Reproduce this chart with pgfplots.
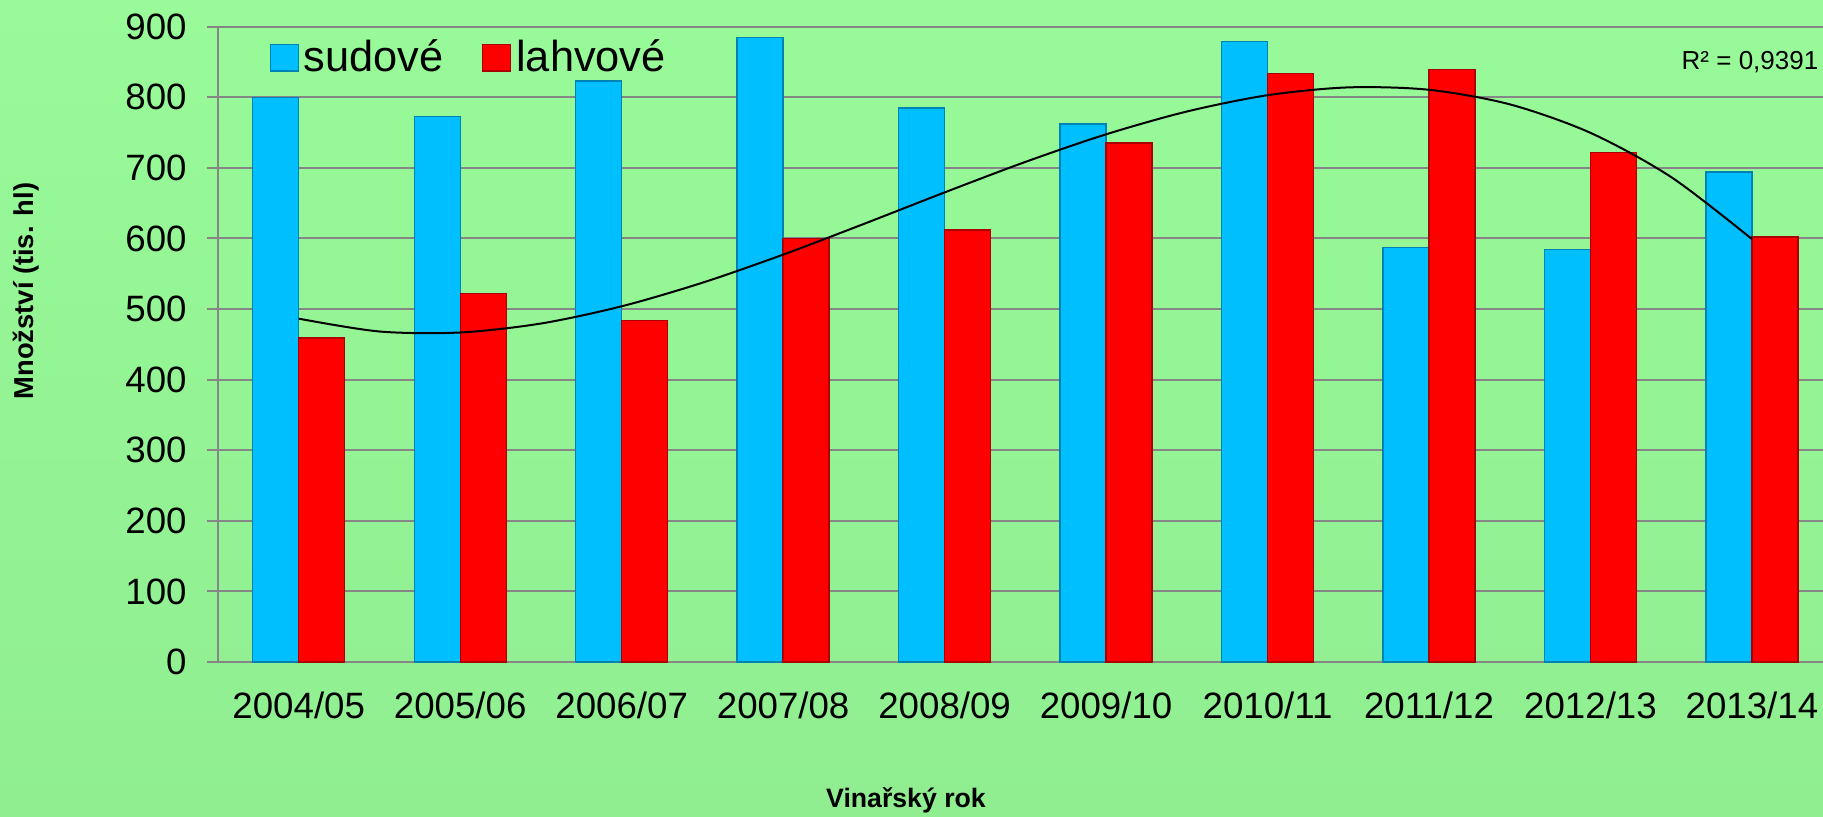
\documentclass[border=0pt]{standalone}
\usepackage{pgfplots}
\pgfplotsset{compat=1.18}
\usepackage{pgfplotstable}
\usepackage{fontspec}
\setmainfont{Liberation Sans}
\definecolor{bgtop}{RGB}{152,250,152}
\definecolor{bgbot}{RGB}{144,238,144}
\definecolor{sud}{RGB}{0,191,255}
\definecolor{sudd}{RGB}{0,130,180}
\definecolor{lah}{RGB}{255,0,0}
\definecolor{lahd}{RGB}{170,0,0}
\definecolor{gridc}{RGB}{134,134,134}
\pgfplotstableread{
x sud lah
0 800 459
1 773 522
2 823 484
3 885 600
4 785 612
5 762 735
6 879 834
7 587 839
8 584 722
9 694 602
}\data
\pgfplotstableread{
x y
0 486.4
0.5 468.2
1 466.8
1.5 479.5
2 503.9
2.5 537.3
3 577.1
3.5 620.6
4 665.2
4.5 708.4
5 747.5
5.5 779.8
6 802.9
6.5 814.0
7 810.6
7.5 790.0
8 749.6
8.5 686.9
9 599.1
}\trend
\begin{document}
\begin{tikzpicture}
\useasboundingbox (0,0) rectangle (546.9pt,244.8pt);
\shade[top color=bgtop,bottom color=bgbot] (0,0) rectangle (546.9pt,244.8pt);
\begin{axis}[
  at={(65.4pt,46.2pt)}, anchor=south west,
  width=481.5pt, height=190.6pt, scale only axis,
  xmin=-0.5, xmax=9.44, ymin=0, ymax=900,
  xtick={0,...,9},
  xticklabels={2004/05,2005/06,2006/07,2007/08,2008/09,2009/10,2010/11,2011/12,2012/13,2013/14},
  ytick={0,100,...,900},
  ymajorgrids, grid style={gridc, line width=0.6pt},
  axis x line*=bottom, axis y line*=left,
  axis line style={gridc, line width=0.6pt, -},
  xtick style={draw=none},
  ytick style={gridc, line width=0.6pt},
  tick align=outside, major tick length=3.3pt,
  tick label style={font=\fontsize{11}{13}\selectfont},
  /pgf/number format/assume math mode=true,
  xticklabel style={yshift=-2.2pt},
  yticklabel style={xshift=-2.6pt},
  legend columns=2,
  legend style={at={(0.0255,0.951)}, anchor=west, draw=none, fill=none,
    font=\fontsize{13}{15}\selectfont, /tikz/column sep=1pt,
    /tikz/every even column/.append style={column sep=11pt},
    nodes={inner sep=0.5pt}},
  clip=false,
]
\addplot[ybar, bar width=0.285, bar shift=-0.1425, fill=sud, draw=sudd, line width=0.4pt,
  legend image code/.code={\draw[fill=sud, draw=sudd, line width=0.4pt] (0pt,-4pt) rectangle (8.4pt,4pt);}]
  table[x=x,y=sud]{\data};
\addlegendentry{sudové}
\addplot[ybar, bar width=0.285, bar shift=0.1425, fill=lah, draw=lahd, line width=0.4pt,
  legend image code/.code={\draw[fill=lah, draw=lahd, line width=0.4pt] (0pt,-4pt) rectangle (8.4pt,4pt);}]
  table[x=x,y=lah]{\data};
\addlegendentry{lahvové}
\addplot[black, line width=0.6pt, smooth, mark=none, forget plot] table[x=x,y=y]{\trend};
\end{axis}
\node[font=\fontsize{7.8}{9}\selectfont] at (525pt,226.2pt) {R² = 0,9391};
\node[font=\bfseries\fontsize{8.2}{10}\selectfont, rotate=90] at (7.7pt,157.5pt) {Množství (tis. hl)};
\node[font=\bfseries\fontsize{8}{10}\selectfont] at (271.8pt,4.8pt) {Vinařský rok};
\end{tikzpicture}
\end{document}
